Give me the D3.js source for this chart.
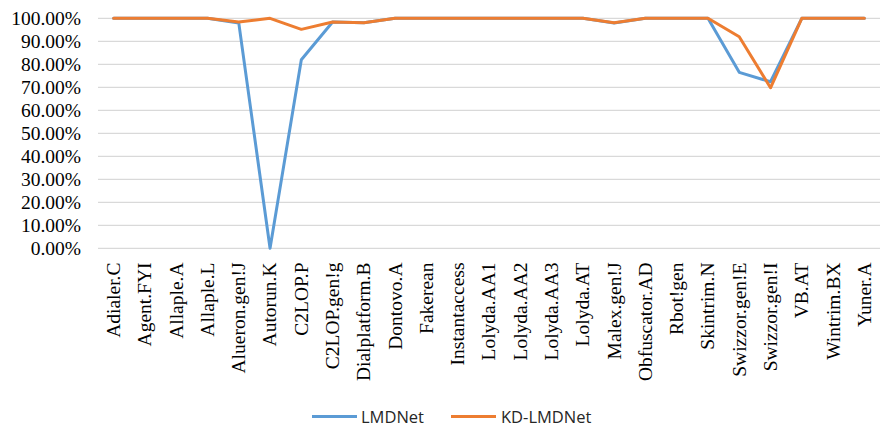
<!DOCTYPE html>
<html>
<head>
<meta charset="utf-8">
<script src="https://cdn.jsdelivr.net/npm/d3@7"></script>
<style>
  html, body { margin: 0; padding: 0; background: #fff; }
  svg { display: block; }
  .serif { font-family: "Liberation Serif", "Tinos", "Times New Roman", "DejaVu Serif", serif; }
  .sans { font-family: "Open Sans", "Liberation Sans", sans-serif; }
</style>
</head>
<body>
<svg id="chart" width="880" height="426"></svg>
<script>
const categories = ["Adialer.C","Agent.FYI","Allaple.A","Allaple.L","Alueron.gen!J","Autorun.K","C2LOP.P","C2LOP.gen!g","Dialplatform.B","Dontovo.A","Fakerean","Instantaccess","Lolyda.AA1","Lolyda.AA2","Lolyda.AA3","Lolyda.AT","Malex.gen!J","Obfuscator.AD","Rbot!gen","Skintrim.N","Swizzor.gen!E","Swizzor.gen!I","VB.AT","Wintrim.BX","Yuner.A"];
const lmdnet   = [1,1,1,1,0.98,0,0.82,0.984,0.981,1,1,1,1,1,1,1,0.98,1,1,1,0.765,0.724,1,1,1];
const kdLmdnet = [1,1,1,1,0.984,1,0.952,0.984,0.981,1,1,1,1,1,1,1,0.981,1,1,1,0.92,0.698,1,1,1];
const yTicks = [0,0.1,0.2,0.3,0.4,0.5,0.6,0.7,0.8,0.9,1.0];
const seriesNames = ["LMDNet","KD-LMDNet"];
const seriesColors = ["#5B9BD5","#ED7D31"];

const svg = d3.select("#chart");
const plotLeft = 98, plotRight = 880, plotTop = 18.3, plotBottom = 248.3;

const x = d3.scaleBand().domain(categories).range([plotLeft, plotRight]).padding(0);
const y = d3.scaleLinear().domain([0, 1]).range([plotBottom, plotTop]);

// gridlines
svg.append("g").selectAll("line").data(yTicks).join("line")
  .attr("x1", plotLeft).attr("x2", plotRight)
  .attr("y1", d => y(d)).attr("y2", d => y(d))
  .attr("stroke", "#D9D9D9").attr("stroke-width", 1.3);

// y axis labels
const yAxis = d3.axisLeft(y).tickValues(yTicks).tickSize(0).tickPadding(0)
  .tickFormat(d => (d * 100).toFixed(2) + "%");
const yg = svg.append("g").attr("transform", `translate(81,0)`).call(yAxis)
  .attr("font-family", null).attr("font-size", null).attr("class", "serif");
yg.select(".domain").remove();
yg.selectAll("text")
  .attr("class", "serif")
  .style("font-size", "19.5px").attr("fill", "#000").attr("dy", "0.34em");

// x axis labels
const xAxis = d3.axisBottom(x).tickSize(0).tickPadding(0);
const xg = svg.append("g").attr("transform", `translate(0,262.5)`).call(xAxis)
  .attr("font-family", null).attr("font-size", null).attr("class", "serif");
xg.select(".domain").remove();
xg.selectAll("text")
  .attr("class", "serif")
  .style("font-size", "19.5px").attr("fill", "#000")
  .attr("text-anchor", "end")
  .attr("transform", "rotate(-90)")
  .attr("x", 0).attr("y", 0).attr("dy", "0.33em");

const cx = d => x(d) + x.bandwidth() / 2;
const line = d3.line().x((d, i) => cx(categories[i])).y(d => y(d));

[lmdnet, kdLmdnet].forEach((s, k) => {
  svg.append("path").datum(s)
    .attr("d", line)
    .attr("fill", "none")
    .attr("stroke", seriesColors[k])
    .attr("stroke-width", 3)
    .attr("stroke-linejoin", "round")
    .attr("stroke-linecap", "round");
});

// legend
const legendItems = [
  {name: seriesNames[0], color: seriesColors[0], x1: 312, x2: 357, tx: 361},
  {name: seriesNames[1], color: seriesColors[1], x1: 451, x2: 496, tx: 501}
];
const lg = svg.append("g");
legendItems.forEach(it => {
  lg.append("line").attr("x1", it.x1).attr("x2", it.x2).attr("y1", 416.5).attr("y2", 416.5)
    .attr("stroke", it.color).attr("stroke-width", 3);
  lg.append("text").attr("x", it.tx).attr("y", 422.5)
    .attr("class", "sans")
    .style("font-size", "16.5px").attr("fill", "#262626").text(it.name);
});
</script>
</body>
</html>
